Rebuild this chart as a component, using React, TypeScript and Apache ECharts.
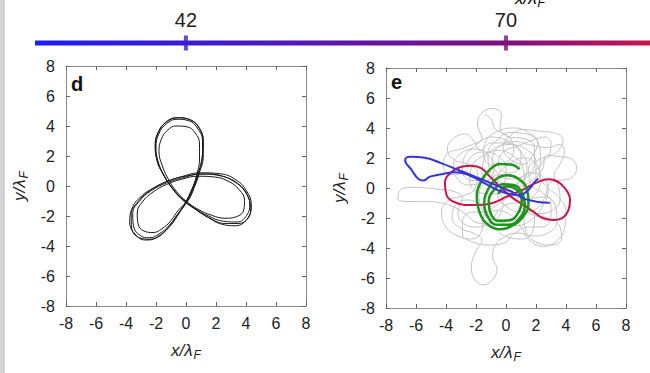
import React, { useEffect, useRef } from "react";
import * as echarts from "echarts";

// ---------- data ----------
const axisMin = -8;
const axisMax = 8;
const axisStep = 2;

const colorbarRange = [28.8, 82.6];
const colorbarTicks = [42, 70];
const colorbarTickColors = ["#3a22c8", "#7a1478"];
const colorbarStops = ["#1c1cf4", "#3a1cd0", "#7c1080", "#c4184c"];

// panel d: trefoil trajectory (several traversals)
const trefoilPath: [number, number][] = [
  [0.1, -1.0], [0.5, -0.1], [0.85, 0.9], [1.1, 2.0], [1.1, 3.0], [0.8, 3.8], [0.2, 4.35], [-0.6, 4.45], [-1.3, 4.15], [-1.8, 3.5], [-2.0, 2.6], [-1.85, 1.6], [-1.4, 0.6], [-0.8, -0.3], [-0.2, -0.9],
  [0.6, -1.5], [1.5, -2.0], [2.5, -2.35], [3.4, -2.4], [4.05, -1.95], [4.25, -1.2], [3.95, -0.4], [3.2, 0.3], [2.2, 0.7], [1.0, 0.8], [-0.2, 0.55], [-1.3, 0.2], [-2.3, -0.3], [-3.1, -1.0], [-3.55, -1.85], [-3.5, -2.65], [-3.05, -3.3], [-2.45, -3.45], [-1.8, -3.2], [-1.1, -2.6], [-0.5, -1.8],
  [-0.05, -1.1], [0.35, -0.3], [0.75, 0.7], [1.05, 1.8], [1.15, 2.9], [0.9, 3.85], [0.3, 4.4], [-0.5, 4.55], [-1.25, 4.3], [-1.8, 3.65], [-2.05, 2.7], [-1.9, 1.65], [-1.45, 0.65], [-0.85, -0.25], [-0.15, -1.0],
  [0.7, -1.6], [1.6, -2.15], [2.6, -2.5], [3.5, -2.5], [4.2, -2.0], [4.35, -1.25], [4.05, -0.35], [3.35, 0.4], [2.25, 0.82], [0.95, 0.88], [-0.3, 0.62], [-1.4, 0.25], [-2.4, -0.3], [-3.2, -1.05], [-3.65, -1.9], [-3.62, -2.8], [-3.1, -3.45], [-2.4, -3.55], [-1.7, -3.25], [-1.0, -2.6], [-0.45, -1.8],
  [0.05, -1.0], [0.4, -0.25], [0.7, 0.7], [0.9, 1.8], [0.9, 2.8], [0.6, 3.55], [0.05, 3.95], [-0.65, 4.0], [-1.25, 3.7], [-1.65, 3.1], [-1.8, 2.3], [-1.6, 1.4], [-1.2, 0.5], [-0.65, -0.35], [0.0, -1.0],
  [0.8, -1.55], [1.7, -1.95], [2.6, -2.15], [3.35, -2.05], [3.85, -1.6], [3.9, -0.95], [3.55, -0.25], [2.85, 0.3], [1.9, 0.6], [0.8, 0.65], [-0.3, 0.45], [-1.3, 0.1], [-2.2, -0.4], [-2.9, -1.05], [-3.25, -1.8], [-3.2, -2.5], [-2.8, -3.0], [-2.2, -3.1], [-1.6, -2.85], [-1.0, -2.3], [-0.5, -1.6],
  [0.15, -0.95], [0.55, -0.1], [0.9, 0.9], [1.15, 2.0], [1.15, 3.0], [0.85, 3.9], [0.2, 4.45], [-0.65, 4.55], [-1.35, 4.25], [-1.85, 3.6], [-2.05, 2.75], [-1.95, 1.75], [-1.5, 0.75], [-0.9, -0.15], [-0.25, -0.85],
  [0.5, -1.45], [1.4, -2.05], [2.4, -2.55], [3.3, -2.65], [4.0, -2.3], [4.32, -1.6], [4.15, -0.75], [3.6, 0.05], [2.6, 0.6], [1.4, 0.8], [0.2, 0.7], [-1.0, 0.4], [-2.1, -0.1], [-3.0, -0.7], [-3.6, -1.5], [-3.75, -2.4], [-3.4, -3.2], [-2.7, -3.6], [-1.95, -3.45], [-1.25, -2.85], [-0.6, -1.95],
  [0.0, -1.15], [0.45, -0.25], [0.8, 0.75]
];

// panel e: background chaotic trajectory
const grayPath: [number, number][] = [
  [0.5, 0.2], [1.5, 0.8], [2.3, 1.8], [2.2, 2.9], [1.4, 3.6], [0.3, 3.7], [-0.6, 3.2], [-1.2, 2.3], [-1.1, 1.2], [-0.4, 0.4], [0.6, 0.1], [1.6, 0.4], [2.4, 1.2], [2.7, 2.2],
  [3.4, 2.1], [4.2, 2.0], [4.7, 1.4], [4.4, 0.7], [3.6, 0.5], [2.9, 0.3], [2.6, -0.6], [2.0, -1.4], [1.0, -1.6], [0.0, -1.2], [-0.6, -0.3], [-0.5, 0.8], [0.2, 1.6], [1.2, 2.0], [2.0, 1.6], [2.3, 0.6], [1.9, -0.5], [1.0, -1.0],
  [1.8, -1.8], [2.8, -2.0], [3.6, -2.6], [3.7, -3.4], [3.0, -3.8], [2.0, -3.6], [1.3, -2.8], [1.2, -1.8], [1.6, -0.8], [2.6, -0.6], [3.3, -1.2], [3.4, -2.2], [2.8, -3.0], [1.8, -3.2], [0.8, -3.0],
  [0.0, -3.2], [-0.7, -3.8], [-0.9, -4.6], [-0.6, -5.4], [-0.9, -6.1], [-1.5, -6.45], [-2.1, -6.1], [-2.3, -5.2], [-2.0, -4.2], [-1.6, -3.5], [-2.2, -3.0], [-3.0, -2.7], [-3.6, -2.0], [-3.4, -1.2], [-2.6, -0.8], [-1.7, -1.1], [-1.1, -1.9], [-0.6, -2.8], [0.2, -3.3], [1.1, -3.4], [1.8, -2.8], [1.9, -1.9], [1.4, -1.2], [0.5, -1.0], [-0.4, -1.4], [-1.0, -2.2], [-1.9, -2.6], [-2.8, -2.4], [-3.2, -1.6], [-2.9, -0.7],
  [-3.6, -0.2], [-4.4, -0.1], [-5.3, 0.0], [-6.3, 0.05], [-7.1, -0.2], [-7.2, -0.7], [-6.5, -0.9], [-5.4, -0.9], [-4.3, -1.0], [-3.4, -1.3], [-2.6, -1.8], [-2.0, -2.3], [-1.2, -2.4], [-0.5, -1.9], [-0.2, -1.0], [-0.6, -0.1], [-1.5, 0.3], [-2.5, 0.2], [-3.3, 0.7], [-3.5, 1.5], [-3.0, 2.3], [-2.1, 2.6], [-1.2, 2.2], [-0.8, 1.3], [-1.3, 0.5], [-2.2, 0.5], [-2.9, 1.1], [-2.8, 2.0], [-2.1, 2.8],
  [-1.6, 3.3], [-1.9, 4.2], [-1.6, 5.0], [-0.9, 5.3], [-0.3, 4.9], [-0.4, 4.1], [0.2, 3.4], [1.2, 3.3], [1.9, 2.7], [1.9, 1.6], [1.2, 0.8], [0.2, 0.6], [-0.6, 1.0], [-0.9, 1.9], [-0.4, 2.8], [0.6, 3.1], [1.5, 2.9], [2.8, 2.7], [3.6, 2.9], [3.9, 2.4], [3.6, 1.6], [3.2, 0.8], [3.5, 0.1], [3.6, -0.8], [3.1, -1.5], [2.2, -1.7], [1.3, -1.2], [0.7, -0.4], [0.9, 0.5], [1.6, 1.0], [2.5, 0.7], [2.8, -0.2], [2.5, -1.1], [1.7, -2.1], [0.7, -2.5], [-0.3, -2.3], [-1.0, -1.6], [-1.1, -0.6], [-0.5, 0.1], [0.4, 0.2], [1.0, -0.5], [0.9, -1.5], [0.1, -2.1], [-0.9, -2.1], [-1.6, -1.4], [-1.8, -0.4], [-1.2, 0.5], [-0.2, 0.9], [0.7, 0.7], [1.3, -0.2],
  [1.1, 1.4], [0.4, 2.2], [-0.6, 2.5], [-1.6, 2.1], [-2.3, 1.4], [-2.4, 0.4], [-1.8, -0.3], [-0.8, -0.4], [-0.1, 0.3], [0.0, 1.3], [-0.5, 2.1], [-1.5, 2.4], [-2.4, 2.0], [-2.7, 1.1], [-3.6, 0.9], [-4.2, 1.5], [-3.9, 2.3], [-3.0, 2.6], [-2.0, 3.0], [-0.9, 3.4], [0.3, 3.0], [1.0, 2.3], [0.9, 1.4], [0.2, 1.0], [-0.5, 1.5], [-0.2, 2.4], [0.8, 2.8], [1.8, 3.2], [2.6, 3.4], [3.0, 3.0], [2.9, 2.2], [2.2, 1.9],
  [1.5, 1.3], [1.7, 0.2], [2.4, -0.3], [3.0, -0.9], [3.0, -1.9], [2.4, -2.6], [1.5, -2.6], [0.6, -3.0], [-0.2, -3.7], [-1.2, -3.8], [-2.2, -3.6], [-2.9, -3.1], [-2.9, -2.2], [-2.2, -1.6], [-1.4, -1.6], [-0.7, -1.2], [0.2, -0.6],
  [1.2, -0.2], [2.0, 0.6], [2.0, 1.7], [1.3, 2.6], [0.2, 2.9], [-0.8, 2.6], [-1.5, 1.8], [-1.6, 0.8], [-1.0, 0.0], [0.0, -0.2], [1.0, 0.3], [1.4, 1.3], [1.0, 2.4], [0.0, 3.0], [-1.0, 3.0], [-1.7, 2.5], [-2.2, 3.2], [-2.7, 3.6], [-3.5, 3.3], [-3.9, 2.6], [-3.5, 1.9], [-2.6, 1.6], [-1.9, 1.0], [-2.1, -0.1], [-2.8, -0.5], [-3.8, -0.8], [-4.3, -1.6], [-4.0, -2.6], [-3.2, -3.2], [-2.3, -3.4], [-1.6, -2.8], [-1.5, -1.9], [-0.7, -1.5], [0.3, -1.8], [1.0, -2.6], [1.6, -3.5], [2.5, -3.9], [3.4, -3.5], [3.9, -2.7], [4.0, -1.6], [3.5, -0.6], [2.7, 0.1], [2.2, 1.0], [2.6, 1.9], [3.4, 2.4], [3.8, 3.2], [3.1, 3.7], [2.1, 3.8], [1.2, 3.9], [0.3, 3.5], [-0.2, 2.7], [0.3, 1.9], [1.2, 1.6], [1.8, 2.2],
  [2.1, 3.0], [1.5, 3.7], [0.5, 4.0], [-0.5, 3.8], [-1.3, 3.2], [-1.5, 2.2], [-0.9, 1.5], [0.0, 1.7], [0.5, 2.5], [0.2, 3.4], [-0.7, 3.9], [-1.0, 4.6], [-1.4, 4.9]
];

const bluePath: [number, number][] = [
  [2.16, 0.64], [1.93, 0.42], [1.49, -0.13], [0.93, -0.47], [0.04, -0.36], [-0.73, -0.05], [-1.62, 0.42], [-2.51, 0.87], [-3.4, 1.05], [-4.29, 0.91], [-5.07, 0.76], [-5.5, 0.5], [-5.84, 0.6], [-6.29, 1.2], [-6.73, 1.87],
  [-6.4, 2.09], [-5.4, 2.02], [-4.29, 1.64], [-3.18, 1.2], [-2.07, 0.76], [-1.07, 0.35], [0.27, -0.2], [1.16, -0.69], [2.04, -0.91], [2.93, -0.98]
];

const redPath: [number, number][] = [
  [-0.73, 0.42], [-1.18, 0.87], [-1.62, 1.31], [-2.29, 1.49], [-2.96, 1.42], [-3.73, 0.98], [-4.07, 0.31], [-3.96, -0.47], [-3.51, -0.91], [-2.73, -1.13], [-1.84, -1.13], [-0.96, -1.02], [0.04, -0.58], [1.16, -0.09], [2.04, 0.36], [2.82, 0.58], [3.4, 0.45], [3.93, -0.02], [4.27, -0.8], [4.16, -1.47], [3.71, -2.02], [3.16, -2.13], [2.49, -2.02], [1.82, -1.58], [1.16, -1.13], [0.49, -0.69], [-0.18, -0.13], [-0.73, 0.42]
];

const greenPath: [number, number][] = [
  [0.9, 1.25], [0.4, 1.55], [-0.35, 1.6], [-1.1, 1.2], [-1.7, 0.35], [-1.95, -0.6], [-1.75, -1.65], [-1.2, -2.45], [-0.4, -2.75], [0.45, -2.5], [1.15, -1.9], [1.5, -1.0], [1.4, -0.1], [0.85, 0.6], [0.1, 0.85], [-0.65, 0.6], [-1.2, -0.1], [-1.45, -1.05], [-1.2, -1.95], [-0.6, -2.45], [0.2, -2.45], [0.95, -1.95], [1.25, -1.1], [1.05, -0.3], [0.5, 0.2], [-0.2, 0.25], [-0.85, -0.2], [-1.15, -0.9], [-1.0, -1.75], [-0.5, -2.2], [0.25, -2.15], [0.85, -1.6], [1.05, -0.8], [0.7, -0.1], [0.0, 0.1], [-0.5, -0.4]
];

// ---------- styles ----------
const FONT = '"Liberation Sans", Arial, Helvetica, sans-serif';
const TXT = "#222";
const AX = "#8a8a8a";

const nameRich = {
  a: { fontSize: 17, fontStyle: "italic", color: TXT, fontFamily: FONT },
  b: { fontSize: 12, fontStyle: "italic", color: TXT, fontFamily: FONT, padding: [10, 0, 0, 1] },
};

function valueAxis(gridIndex: number, position: string, withLabels: boolean, isX: boolean) {
  const ax: any = {
    gridIndex,
    type: "value",
    min: axisMin,
    max: axisMax,
    interval: axisStep,
    position,
    axisLine: { show: true, onZero: false, lineStyle: { color: AX, width: 1 } },
    axisTick: { show: true, inside: true, length: 4, lineStyle: { color: "#666" } },
    splitLine: { show: false },
    axisLabel: { show: withLabels, fontSize: 16, color: TXT, fontFamily: FONT, margin: isX ? 9 : 11 },
  };
  if (withLabels) {
    ax.name = isX ? "{a|x/λ}{b|F}" : "{a|y/λ}{b|F}";
    ax.nameLocation = "middle";
    ax.nameGap = isX ? 33 : 36;
    ax.nameTextStyle = { rich: nameRich };
  }
  return ax;
}

export default function App() {
  const ref = useRef<HTMLDivElement>(null);
  useEffect(() => {
    document.body.style.margin = "0";
    const chart = echarts.init(ref.current!, null, { renderer: "svg" });
    const grad = new echarts.graphic.LinearGradient(
      35, 0, 650, 0,
      [
        { offset: 0, color: colorbarStops[0] },
        { offset: 0.245, color: colorbarStops[1] },
        { offset: 0.765, color: colorbarStops[2] },
        { offset: 1, color: colorbarStops[3] },
      ],
      true
    );
    const line = (data: [number, number][], xi: number, color: string, width: number, z = 2) => ({
      type: "line",
      xAxisIndex: xi,
      yAxisIndex: xi,
      data,
      smooth: 0.45,
      symbol: "none",
      showSymbol: false,
      silent: true,
      z,
      lineStyle: { color, width },
    });
    chart.setOption({
      animation: false,
      backgroundColor: "#ffffff",
      grid: [
        { left: 66, top: 66, width: 240, height: 240 },
        { left: 386, top: 68, width: 240, height: 240 },
        { left: 35, top: 38, width: 615, height: 10 },
      ],
      xAxis: [
        valueAxis(0, "bottom", true, true),
        valueAxis(1, "bottom", true, true),
        {
          gridIndex: 2,
          type: "value",
          min: colorbarRange[0],
          max: colorbarRange[1],
          position: "top",
          axisLine: { show: false },
          axisTick: { show: false },
          splitLine: { show: false },
          axisLabel: { show: true, customValues: colorbarTicks, fontSize: 20, color: TXT, fontFamily: FONT, margin: 8 },
        },
        valueAxis(0, "top", false, true),
        valueAxis(1, "top", false, true),
      ],
      yAxis: [
        valueAxis(0, "left", true, false),
        valueAxis(1, "left", true, false),
        { gridIndex: 2, type: "value", min: -1, max: 1, show: false },
        valueAxis(0, "right", false, false),
        valueAxis(1, "right", false, false),
      ],
      graphic: [
        { type: "rect", left: 0, top: 0, shape: { width: 5, height: 373 }, style: { fill: "#d2d2d2" }, silent: true },
        { type: "text", x: 71, y: 74, style: { text: "d", font: `bold 20px ${FONT}`, fill: "#111" }, silent: true },
        { type: "text", x: 391, y: 72, style: { text: "e", font: `bold 20px ${FONT}`, fill: "#111" }, silent: true },
        {
          type: "text", x: 530, y: -13,
          style: { text: "{a|x/λ}{b|F}", rich: nameRich as any, align: "center", verticalAlign: "top" },
          silent: true,
        },
        {
          type: "text", x: 657, y: 186, rotation: Math.PI / 2,
          style: { text: "{a|y/λ}{b|F}", rich: nameRich as any, align: "center", verticalAlign: "middle" },
          silent: true,
        },
      ],
      series: [
        line(trefoilPath, 0, "#1a1a1a", 1),
        line(grayPath, 1, "#c4c4c4", 1),
        line(redPath, 1, "#cc1448", 2, 3),
        line(greenPath, 1, "#1f951f", 2.5, 4),
        line(bluePath, 1, "#3535d8", 2, 5),
        {
          type: "line",
          xAxisIndex: 2,
          yAxisIndex: 2,
          data: [[colorbarRange[0], 0], [colorbarRange[1], 0]],
          symbol: "none",
          silent: true,
          lineStyle: { color: grad, width: 5 },
        },
        {
          type: "scatter",
          xAxisIndex: 2,
          yAxisIndex: 2,
          symbol: "rect",
          symbolSize: [4, 15],
          silent: true,
          z: 5,
          data: colorbarTicks.map((v, i) => ({ value: [v, 0], itemStyle: { color: colorbarTickColors[i] } })),
        },
      ],
    } as any);
    return () => chart.dispose();
  }, []);
  return (
    <div
      ref={ref}
      style={{ position: "absolute", left: 0, top: 0, width: 650, height: 373, background: "#fff" }}
    />
  );
}
